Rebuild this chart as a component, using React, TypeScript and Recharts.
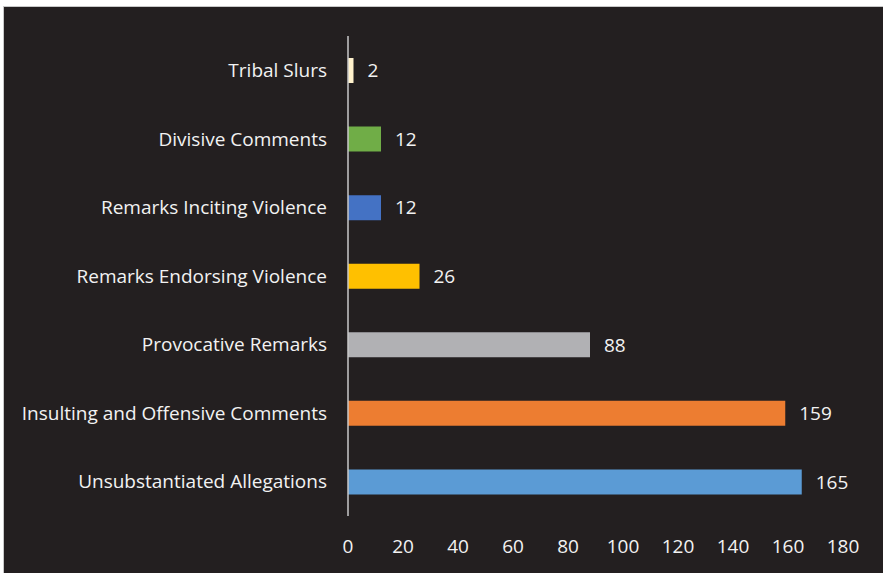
import { BarChart, Bar, Cell, XAxis, YAxis, LabelList } from "recharts";

const categories = [
  "Tribal Slurs",
  "Divisive Comments",
  "Remarks Inciting Violence",
  "Remarks Endorsing Violence",
  "Provocative Remarks",
  "Insulting and Offensive Comments",
  "Unsubstantiated Allegations",
];
const counts = [2, 12, 12, 26, 88, 159, 165];
const barColors = ["#FFF2CC", "#70AD47", "#4472C4", "#FFC000", "#B1B1B4", "#ED7D31", "#5B9BD5"];
const xTicks = [0, 20, 40, 60, 80, 100, 120, 140, 160, 180];

const data = categories.map((name, i) => ({ name, value: counts[i] }));

const font = "'Open Sans', 'Noto Sans', sans-serif";

const App = () => {
  return (
    <div style={{ position: "absolute", left: 0, top: 0, width: 883, height: 573, background: "#fff" }}>
      <div
        style={{
          position: "absolute",
          left: 3,
          top: 6,
          width: 880,
          height: 567,
          background: "#231F20",
          borderTop: "1px solid #c8c8c8",
          borderLeft: "1px solid #c8c8c8",
          boxSizing: "border-box",
        }}
      >
        <BarChart
          width={879}
          height={566}
          data={data}
          layout="vertical"
          margin={{ top: 29, right: 40, bottom: 27, left: 0 }}
          barSize={25}
        >
          <XAxis
            type="number"
            domain={[0, 180]}
            ticks={xTicks}
            axisLine={false}
            tickLine={false}
            tickSize={0}
            tickMargin={24}
            height={30}
            interval={0}
            tick={{ fill: "#f2f2f2", fontSize: 19, fontFamily: font }}
          />
          <YAxis
            type="category"
            dataKey="name"
            width={344}
            axisLine={{ stroke: "#c9c9c9", strokeWidth: 1.5 }}
            tickLine={false}
            tickSize={0}
            tickMargin={21}
            interval={0}
            tick={{ fill: "#f2f2f2", fontSize: 19, fontFamily: font }}
          />
          <Bar dataKey="value" isAnimationActive={false}>
            {data.map((entry, index) => (
              <Cell key={`cell-${index}`} fill={barColors[index]} />
            ))}
            <LabelList
              dataKey="value"
              position="right"
              offset={14}
              fill="#f2f2f2"
              style={{ fontSize: 19, fontFamily: font }}
            />
          </Bar>
        </BarChart>
      </div>
    </div>
  );
};

export default App;
